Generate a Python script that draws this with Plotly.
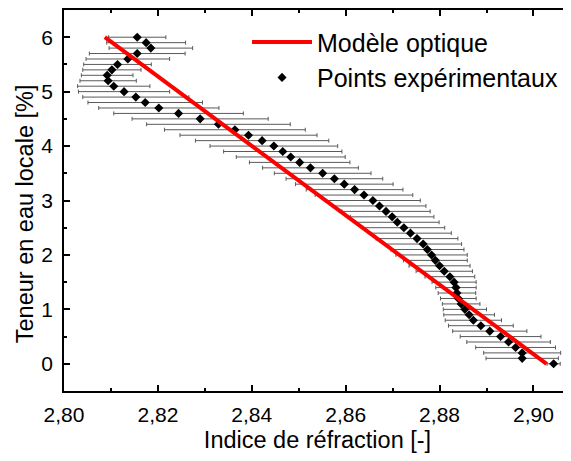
import plotly.graph_objects as go

# Experimental points: water content (%) vs refractive index
teneur = [0.0, 0.1, 0.2, 0.3, 0.4, 0.5, 0.6, 0.7, 0.8, 0.9,
          1.0, 1.1, 1.2, 1.3, 1.4, 1.5, 1.6, 1.7, 1.8, 1.9,
          2.0, 2.1, 2.2, 2.3, 2.4, 2.5, 2.6, 2.7, 2.8, 2.9,
          3.0, 3.1, 3.2, 3.3, 3.4, 3.5, 3.6, 3.7, 3.8, 3.9,
          4.0, 4.1, 4.2, 4.3, 4.4, 4.5, 4.6, 4.7, 4.8, 4.9,
          5.0, 5.1, 5.2, 5.3, 5.4, 5.5, 5.6, 5.7, 5.8, 5.9, 6.0]

indice = [2.9043, 2.8976, 2.8976, 2.8962, 2.8947, 2.8930, 2.8907, 2.8888, 2.8872, 2.8863,
          2.8854, 2.8846, 2.8840, 2.8837, 2.8835, 2.8831, 2.8822, 2.8810, 2.8800, 2.8791,
          2.8783, 2.8774, 2.8765, 2.8752, 2.8738, 2.8724, 2.8710, 2.8699, 2.8686, 2.8672,
          2.8658, 2.8639, 2.8619, 2.8597, 2.8576, 2.8551, 2.8525, 2.8502, 2.8483, 2.8466,
          2.8447, 2.8422, 2.8393, 2.8364, 2.8329, 2.8290, 2.8244, 2.8202, 2.8173, 2.8153,
          2.8128, 2.8106, 2.8094, 2.8092, 2.8102, 2.8114, 2.8136, 2.8156, 2.8185, 2.8175, 2.8156]

erreur = [0.0014, 0.0077, 0.0082, 0.0085, 0.0089, 0.0086, 0.0079, 0.0069, 0.0060, 0.0054,
          0.0046, 0.0040, 0.0038, 0.0040, 0.0043, 0.0047, 0.0053, 0.0060, 0.0065, 0.0068,
          0.0076, 0.0078, 0.0082, 0.0087, 0.0087, 0.0087, 0.0089, 0.0089, 0.0094, 0.0099,
          0.0101, 0.0104, 0.0103, 0.0104, 0.0103, 0.0103, 0.0102, 0.0107, 0.0116, 0.0126,
          0.0136, 0.0142, 0.0146, 0.0150, 0.0153, 0.0145, 0.0138, 0.0128, 0.0122, 0.0113,
          0.0097, 0.0077, 0.0060, 0.0055, 0.0062, 0.0072, 0.0089, 0.0102, 0.0089, 0.0084, 0.0061]

# Optical model (straight line)
modele_indice = [2.9028, 2.8557, 2.8087]
modele_teneur = [0.0, 3.0, 6.0]

x_ticks = [2.80, 2.82, 2.84, 2.86, 2.88, 2.90]
x_ticklabels = ["2,80", "2,82", "2,84", "2,86", "2,88", "2,90"]
y_ticks = [0, 1, 2, 3, 4, 5, 6]

FONT = "Liberation Sans, Arial, sans-serif"

fig = go.Figure()

fig.add_trace(go.Scatter(
    x=indice, y=teneur, mode="markers", name="Points expérimentaux",
    marker=dict(symbol="diamond", size=7, color="black"),
    error_x=dict(type="data", array=erreur, visible=True, color="#5a5a5a",
                 thickness=1, width=2),
))

fig.add_trace(go.Scatter(
    x=modele_indice, y=modele_teneur, mode="lines", name="Modèle optique",
    line=dict(color="#ff0000", width=4),
))

axis_common = dict(
    showline=True, linecolor="black", linewidth=1.5, mirror="ticks",
    ticks="inside", ticklen=6, tickwidth=1.5, tickcolor="black",
    showgrid=False, zeroline=False, automargin=False,
    tickfont=dict(family=FONT, size=21, color="black"),
)

fig.update_xaxes(
    range=[2.80, 2.9080], tickvals=x_ticks, ticktext=x_ticklabels,
    minor=dict(ticks="inside", ticklen=3, tickwidth=1.5, tickcolor="black", dtick=0.01),
    title=dict(text="Indice de réfraction [-]", font=dict(family=FONT, size=23.5, color="black"), standoff=10),
    ticklabelstandoff=4,
    **axis_common,
)
fig.update_yaxes(
    range=[-0.5, 6.5], tickvals=y_ticks,
    minor=dict(ticks="inside", ticklen=3, tickwidth=1.5, tickcolor="black", dtick=0.5),
    ticklabelstandoff=5,
    **axis_common,
)

# y-axis title (placed slightly below the axis centre, as in the reference)
fig.add_annotation(
    text="Teneur en eau locale [%]", textangle=-90,
    xref="paper", yref="paper", x=-0.077, y=0.4665,
    xanchor="center", yanchor="middle", showarrow=False,
    font=dict(family=FONT, size=23.5, color="black"),
)

# The page adds an 8 px body margin; the plot's right border runs to the window edge.
fig.update_layout(
    width=563, height=445,
    margin=dict(l=56, r=0, t=2, b=62),
    plot_bgcolor="white", paper_bgcolor="white",
    separators=", ",
    legend=dict(x=0.361, y=0.976, xanchor="left", yanchor="top",
                traceorder="reversed", bgcolor="rgba(0,0,0,0)",
                font=dict(family=FONT, size=25, color="black"),
                itemwidth=60, tracegroupgap=0),
    showlegend=True,
)

fig.write_html("out.html")
